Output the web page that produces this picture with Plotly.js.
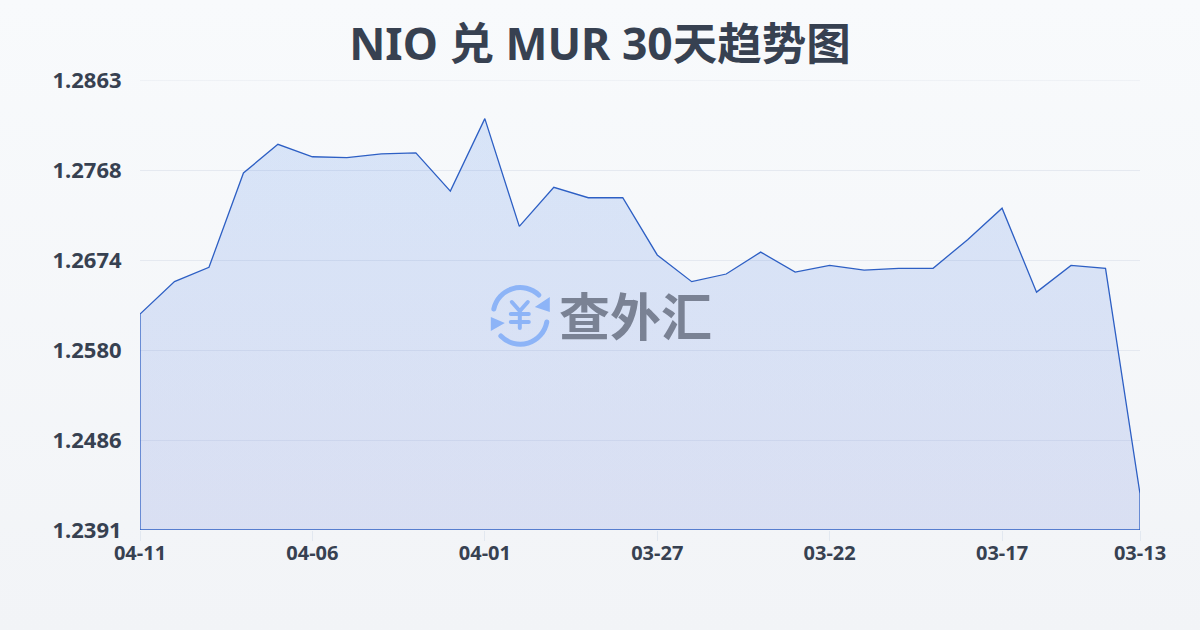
<!DOCTYPE html>
<html><head><meta charset="utf-8">
<script src="https://cdn.plot.ly/plotly-3.0.1.min.js"></script>
<style>html,body{margin:0;padding:0;width:1200px;height:630px;overflow:hidden;background:linear-gradient(180deg,#f8fafc 0%,#f2f4f7 100%);}#c{width:1200px;height:630px}</style>
</head><body><div id="c"></div>
<script>
const dates=['04-11','04-10','04-09','04-08','04-07','04-06','04-05','04-04','04-03','04-02','04-01','03-31','03-30','03-29','03-28','03-27','03-26','03-25','03-24','03-23','03-22','03-21','03-20','03-19','03-18','03-17','03-16','03-15','03-14','03-13'];
const rates=[1.26175,1.26515,1.26665,1.27655,1.27955,1.27825,1.27815,1.27855,1.27865,1.27465,1.28225,1.27095,1.27505,1.27395,1.27395,1.26795,1.26515,1.26595,1.26825,1.26615,1.26685,1.26635,1.26655,1.26655,1.26955,1.27285,1.26405,1.26685,1.26655,1.2429];
const xTicks=['04-11','04-06','04-01','03-27','03-22','03-17','03-13'];
const yTickVals=[1.2863,1.27686,1.26742,1.25798,1.24854,1.2391];
const yTickText=['1.2863','1.2768','1.2674','1.2580','1.2486','1.2391'];
const yMin=1.2391,yMax=1.2863;
const font='"Noto Sans","Noto Sans CJK SC",sans-serif';
const x=[dates[0],...dates,dates[dates.length-1],dates[0]];
const y=[yMin,...rates,yMin,yMin];
const icon=`<svg xmlns="http://www.w3.org/2000/svg" viewBox="489 285 62 62"><g fill="none" stroke="#8db4f7" stroke-width="5" stroke-linecap="round"><path d="M494 309 A27 27 0 0 1 539 295"/><path d="M547 322 A27 27 0 0 1 501 336"/><path d="M512 302 L520 311 L528 302 M511 314 H529 M511 322 H529 M520 311 V328" stroke-width="4"/></g><path d="M550 297 V312 L535 307 Z M491 317 V331 L505 323 Z" fill="#8db4f7"/></svg>`;
Plotly.newPlot('c',[{x:x,y:y,type:'scatter',mode:'lines',fill:'toself',
 line:{color:'#2d5fc4',width:1.3,shape:'linear'},
 fillgradient:{type:'vertical',colorscale:[[0,'rgba(72,100,212,0.15)'],[1,'rgba(59,125,232,0.165)']]},
 hoverinfo:'skip',cliponaxis:false}],{
 width:1200,height:630,showlegend:false,
 paper_bgcolor:'rgba(0,0,0,0)',plot_bgcolor:'rgba(0,0,0,0)',
 margin:{l:140,r:59.5,t:80,b:100},
 title:{text:'NIO 兑 MUR 30天趋势图',x:0.5,xanchor:'center',y:0.93,yanchor:'middle',font:{family:font,size:44.5,color:'#374151',weight:700}},
 xaxis:{type:'category',categoryorder:'array',categoryarray:dates,range:[0,dates.length-1],tickmode:'array',tickvals:xTicks,ticktext:xTicks,
  showgrid:false,zeroline:false,showline:false,ticks:'outside',ticklen:10,tickwidth:1,tickcolor:'#e2e8f0',ticklabelstandoff:-5,
  tickfont:{family:font,size:20,color:'#374151',weight:700},tickangle:0,automargin:false},
 yaxis:{range:[yMin,yMax],tickmode:'array',tickvals:yTickVals,ticktext:yTickText,showgrid:true,gridcolor:'#e5e9f0',gridwidth:1,
  zeroline:false,showline:false,ticks:'outside',ticklen:13,tickcolor:'rgba(0,0,0,0)',tickfont:{family:font,size:22,color:'#374151',weight:700},automargin:false},
 shapes:[{type:'line',xref:'paper',yref:'y',x0:0,x1:1,y0:yTickVals[0],y1:yTickVals[0],line:{color:'#e5e9f0',width:1},layer:'below'}],
 annotations:[{text:'<b>查外汇</b>',xref:'paper',yref:'paper',x:(635.5-140)/1000.5,y:(530-313.5)/450,xanchor:'center',yanchor:'middle',showarrow:false,font:{family:'"Noto Sans CJK SC",sans-serif',size:51,color:'#7a8294'}}],
 images:[{source:'data:image/svg+xml;utf8,'+encodeURIComponent(icon),xref:'paper',yref:'paper',x:(489-140)/1000.5,y:(530-285)/450,sizex:62/1000.5,sizey:62/450,xanchor:'left',yanchor:'top',sizing:'stretch',layer:'above'}]
},{staticPlot:true,displayModeBar:false});
</script></body></html>
